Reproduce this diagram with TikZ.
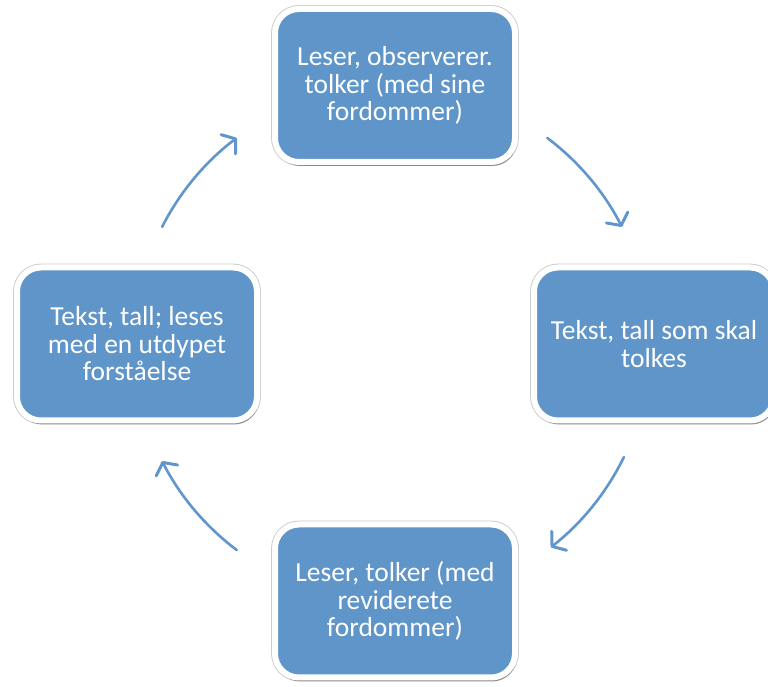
\documentclass[tikz,border=0pt]{standalone}
\usepackage{fontspec}
\setmainfont{Carlito}
\usetikzlibrary{arrows.meta,shadows,calc}
\definecolor{boxblue}{RGB}{95,149,201}
\definecolor{arrblue}{RGB}{96,150,204}
\tikzset{
  cyclebox/.style={
    rectangle, rounded corners=24pt,
    minimum width=240pt, minimum height=153pt,
    fill=boxblue, draw=white, line width=6pt,
    preaction={draw=black!20, line width=7.8pt},
    drop shadow={shadow xshift=1.5pt, shadow yshift=-4pt, fill=black, opacity=0.32},
    text=white, align=center, inner sep=0pt,
    font=\fontsize{27.5}{27.5}\selectfont
  },
  cyclearrow/.style={
    draw=arrblue, line width=2.6pt, line cap=round,
    -{Straight Barb[length=9pt, width=24pt, line width=3pt, round]}
  }
}
\begin{document}
\begin{tikzpicture}[x=1pt, y=1pt]
\useasboundingbox (0,0) rectangle (768,687);
\fill[white] (0,0) rectangle (768,687);
\node[cyclebox] (top) at (395,601.5) {Leser, observerer.\\tolker (med sine\\fordommer)};
\node[cyclebox] (right) at (654,343) {Tekst, tall som skal\\tolkes};
\node[cyclebox] (bottom) at (395,86) {Leser, tolker (med\\reviderete\\fordommer)};
\node[cyclebox] (left) at (137,343) {Tekst, tall; leses\\med en utdypet\\forståelse};
\coordinate (c) at (392,343);
\coordinate (a1) at ($(c)+(53:258)$);
\coordinate (a2) at ($(c)+(-26:258)$);
\coordinate (a3) at ($(c)+(-127:258)$);
\coordinate (a4) at ($(c)+(153:258)$);
\draw[cyclearrow] (a1) arc[start angle=53, end angle=27, radius=258];
\draw[cyclearrow] (a2) arc[start angle=-26, end angle=-52, radius=258];
\draw[cyclearrow] (a3) arc[start angle=-127, end angle=-153, radius=258];
\draw[cyclearrow] (a4) arc[start angle=153, end angle=127, radius=258];
\end{tikzpicture}
\end{document}
